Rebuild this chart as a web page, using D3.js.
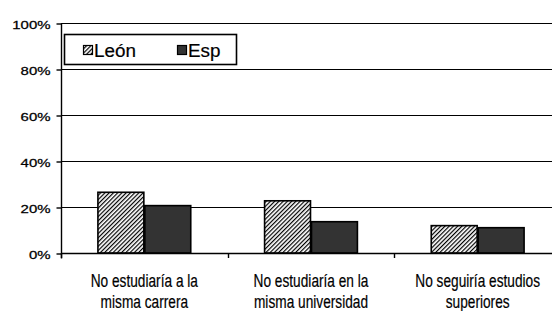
<!DOCTYPE html>
<html><head><meta charset="utf-8">
<script src="https://cdn.jsdelivr.net/npm/d3@7/dist/d3.min.js"></script>
<style>html,body{margin:0;padding:0;background:#fff;}svg{display:block;}</style>
</head><body>
<svg id="c" width="552" height="311"></svg>
<script>
const categories = [["No estudiaría a la","misma carrera"],["No estudiaría en la","misma universidad"],["No seguiría estudios","superiores"]];
const catKeys = ["c1","c2","c3"];
const series = ["León","Esp"];
const leon = [26.4, 22.7, 11.9];
const esp = [20.6, 13.6, 11.0];
const yTicks = [0,20,40,60,80,100];
const yTickLabels = ["0%","20%","40%","60%","80%","100%"];

const svg = d3.select("#c");
const defs = svg.append("defs");
const pat = defs.append("pattern").attr("id","hatch").attr("patternUnits","userSpaceOnUse")
  .attr("width",3).attr("height",3).attr("patternTransform","rotate(45)");
pat.append("rect").attr("width",3).attr("height",3).attr("fill","#fff");
pat.append("line").attr("x1",0.6).attr("y1",0).attr("x2",0.6).attr("y2",3).attr("stroke","#000").attr("stroke-width",1.2);

const pLeft=61, pRight=561, pTop=23, pBottom=253;
const y = d3.scaleLinear().domain([0,100]).range([pBottom,pTop]);
const x0 = d3.scaleBand().domain(catKeys).range([pLeft,pRight]).padding(0);
const groupFrac = 0.563;
const x1 = d3.scaleBand().domain(series).range([x0.bandwidth()*(1-groupFrac)/2, x0.bandwidth()*(1+groupFrac)/2]).padding(0);
const font = "Liberation Sans, Arial, sans-serif";

// gridlines
svg.append("g").selectAll("line").data(yTicks.filter(d=>d>0)).join("line")
  .attr("x1",pLeft).attr("x2",552).attr("y1",d=>Math.round(y(d))+0.5).attr("y2",d=>Math.round(y(d))+0.5)
  .attr("stroke","#000").attr("stroke-width",1);

// y axis
const yAxis = d3.axisLeft(y).tickValues(yTicks).tickSize(5).tickFormat((d,i)=>yTickLabels[i]);
const ga = svg.append("g").attr("transform",`translate(${pLeft+0.5},0.5)`).call(yAxis);
ga.select(".domain").attr("stroke","#000").attr("stroke-width",1.4).attr("d",`M0,${pTop-0.5}V${pBottom+5}`);
ga.selectAll(".tick line").attr("stroke","#000").attr("stroke-width",1.4);
ga.selectAll(".tick text").attr("font-family",font).attr("font-size",11.5)
  .attr("fill","#000").attr("stroke","#000").attr("stroke-width",0.25).attr("x",0).attr("dy",null).attr("dominant-baseline","middle")
  .attr("transform","translate(-11,1.5) scale(1.3,1)").attr("text-anchor","end");

// bars
const data = [];
catKeys.forEach((c,i)=>{ data.push({c, s:"León", v:leon[i]}); data.push({c, s:"Esp", v:esp[i]}); });
svg.append("g").selectAll("rect").data(data).join("rect")
  .attr("x",d=>x0(d.c)+x1(d.s)+0.5).attr("width",x1.bandwidth()-1)
  .attr("y",d=>y(d.v)).attr("height",d=>y(0)-y(d.v))
  .attr("fill",d=>d.s==="León"?"url(#hatch)":"#333333")
  .attr("stroke","#000").attr("stroke-width",1.6);

// x axis
const xAxis = d3.axisBottom(x0).tickSize(0).tickFormat("");
const gx = svg.append("g").attr("transform",`translate(0,${pBottom+0.5})`).call(xAxis);
gx.select(".domain").attr("stroke","#000").attr("stroke-width",1.4).attr("d",`M${pLeft},0H552`);
gx.selectAll(".tick").remove();
svg.append("g").selectAll("line").data(catKeys).join("line")
  .attr("x1",d=>Math.round(x0(d))+0.5).attr("x2",d=>Math.round(x0(d))+0.5)
  .attr("y1",pBottom).attr("y2",pBottom+5).attr("stroke","#000").attr("stroke-width",1.4);

// category labels
const cl = svg.append("g").selectAll("g").data(catKeys).join("g")
  .attr("transform",(d)=>`translate(${x0(d)+x0.bandwidth()/2},0)`);
cl.each(function(d,i){
  const g = d3.select(this);
  categories[i].forEach((t,j)=>{
    g.append("text").text(t).attr("text-anchor","middle")
      .attr("font-family",font).attr("font-size",18.5).attr("fill","#000").attr("stroke","#000").attr("stroke-width",0.2)
      .attr("transform",`translate(0,${287+j*20.5}) scale(0.74,1)`);
  });
});

// legend
const lg = svg.append("g");
lg.append("rect").attr("x",64.5).attr("y",34.5).attr("width",172).attr("height",30)
  .attr("fill","#fff").attr("stroke","#000").attr("stroke-width",1.6);
const lx = [83, 177];
series.forEach((s,i)=>{
  lg.append("rect").attr("x",lx[i]+0.5).attr("y",45.5).attr("width",9).attr("height",9)
    .attr("fill",i===0?"url(#hatch)":"#333333").attr("stroke","#000").attr("stroke-width",1.2);
  lg.append("text").text(s).attr("font-family",font).attr("font-size",18.5)
    .attr("fill","#000").attr("stroke","#000").attr("stroke-width",0.2).attr("transform",`translate(${lx[i]+11},57) scale(1.02,1)`);
});
</script>
</body></html>
